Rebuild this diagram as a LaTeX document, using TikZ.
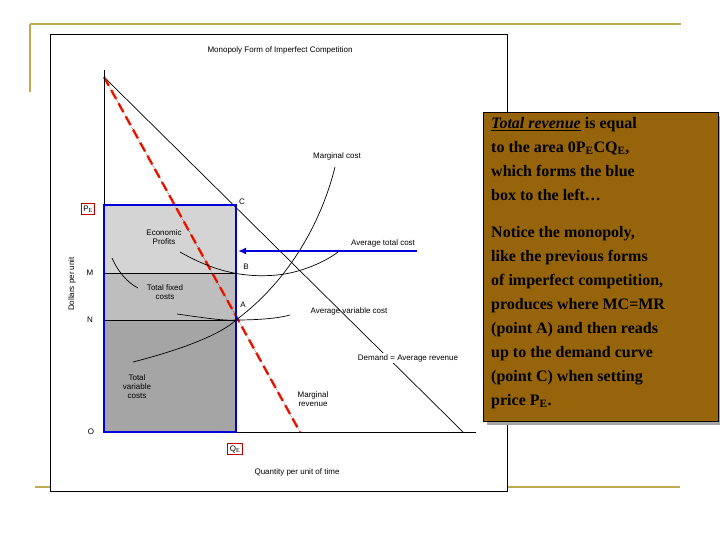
\documentclass[tikz,border=0pt]{standalone}
\usepackage{fontspec}
\setmainfont{Liberation Serif}
\newfontfamily\lsans{Liberation Sans}
\usetikzlibrary{arrows.meta}
\definecolor{gold}{RGB}{190,170,80}
\definecolor{brownbox}{RGB}{150,100,10}
\definecolor{profit}{RGB}{212,212,212}
\definecolor{fixedc}{RGB}{190,190,190}
\definecolor{varc}{RGB}{165,165,165}
\tikzset{lbl/.style={font=\lsans\fontsize{8}{9}\selectfont,inner sep=1pt,align=center},
 curve/.style={black,line width=0.7pt},
 redbox/.style={draw=red!75!black,line width=1.2pt,inner sep=2pt,font=\lsans\fontsize{8}{9}\selectfont}}
\begin{document}
\begin{tikzpicture}[x=1pt,y=-1pt]
\useasboundingbox (0,0) rectangle (720,540);
% slide decoration
\draw[gold,line width=2pt] (30,24) -- (681,24);
\draw[gold,line width=2pt] (30,24) -- (30,92);
\draw[gold,line width=2pt] (35,487) -- (680,487);
% image frame
\draw[fill=white,line width=0.6pt] (50,34) rectangle (507,491);
\node[lbl] (title) at (280,50) {Monopoly Form of Imperfect Competition};
% shaded areas
\fill[profit] (104,205) rectangle (236,273);
\fill[fixedc] (104,273) rectangle (236,320);
\fill[varc] (104,320) rectangle (236,432);
\draw[line width=0.5pt] (104,273) -- (236,273);
\draw[line width=0.5pt] (104,320) -- (236,320);
% coordinates
\coordinate (top) at (104,77);
\coordinate (dend) at (463,432);
\coordinate (mrend) at (300,432);
\coordinate (A) at (236,320);
% demand line
\draw[curve] (top) -- (dend);
% MR
\draw[red!80!orange,line width=2.4pt,dash pattern=on 10pt off 5pt] (top) -- (mrend);
\draw[black,line width=0.4pt,densely dotted] (top) -- (mrend);
% axes
\draw[line width=1pt] (104,70) -- (104,432) -- (476,432);
% blue box
\draw[blue!85!black,line width=2pt] (104,205) rectangle (236,432);
% curves
\draw[curve] (133,362) .. controls (180,350) and (220,335) .. (A) .. controls (290,280) and (322,220) .. (335,167);
\draw[curve] (180,252) .. controls (215,272) and (245,278) .. (277,275) .. controls (300,273) and (325,262) .. (338,252);
\draw[curve] (177,314) .. controls (205,318) and (225,321) .. (A) .. controls (260,320) and (280,318) .. (290,315);
\draw[curve] (112,258) .. controls (118,272) and (128,283) .. (138,288);
% blue arrow
\coordinate (arrS) at (417,251);
\coordinate (arrE) at (238,251);
\draw[blue!85!black,line width=2pt,-{Latex[length=8pt,width=7pt]}] (arrS) -- (arrE);
% labels
\node[lbl] (mc) at (337,156) {Marginal cost};
\node[lbl] (lC) at (242,202) {C};
\node[lbl] (ep) at (164,237) {Economic\\Profits};
\node[lbl] (atc) at (383,243) {Average total cost};
\node[lbl] (lB) at (246,267) {B};
\node[lbl] (lM) at (90,273) {M};
\node[lbl] (lN) at (90,320) {N};
\node[lbl] (tfc) at (165,292) {Total fixed\\costs};
\node[lbl] (lA) at (243,305) {A};
\node[lbl] (avc) at (349,311) {Average variable cost};
\node[lbl] (tvc) at (137,387) {Total\\variable\\costs};
\node[lbl,fill=white] (dar) at (408,358) {Demand = Average revenue};
\node[lbl] (mr) at (313,399) {Marginal\\revenue};
\node[lbl] (lO) at (91,432) {O};
\node[lbl] (qx) at (297,472) {Quantity per unit of time};
\node[lbl,rotate=90] (dy) at (72,284) {Dollars per unit};
\node[redbox] (pe) at (88,209) {P$_\mathrm{E}$};
\node[redbox] (qe) at (235,449) {Q$_\mathrm{E}$};
% text box
\fill[gray!70] (487,116) rectangle (722,425);
\draw[fill=brownbox,line width=0.8pt] (483,112) rectangle (718,421);
\node[anchor=north west,align=left,inner sep=0pt,font=\bfseries\fontsize{16}{24}\selectfont] (txt) at (491,117) {\underline{\textit{Total revenue}} is equal\\to the area 0P$_\mathbf{E}$CQ$_\mathbf{E}$,\\which forms the blue\\box to the left\dots\\[13pt]Notice the monopoly,\\like the previous forms\\of imperfect competition,\\produces where MC=MR\\(point A) and then reads\\up to the demand curve\\(point C) when setting\\price P$_\mathbf{E}$.};
\end{tikzpicture}
\end{document}
